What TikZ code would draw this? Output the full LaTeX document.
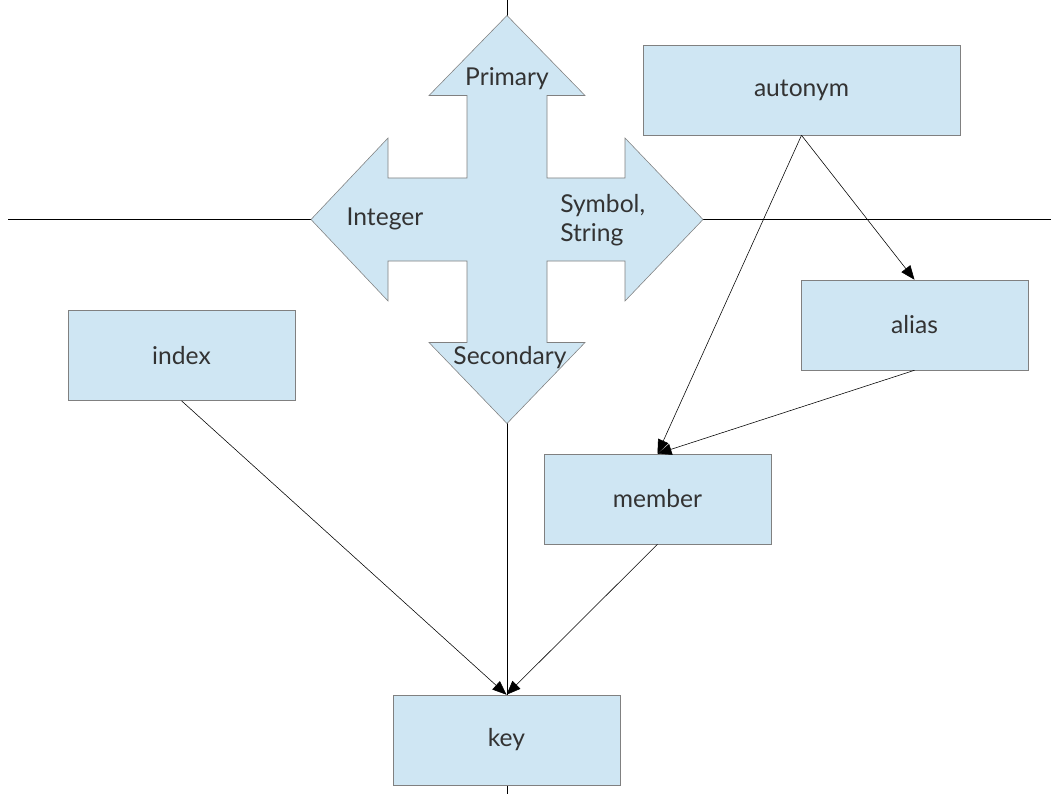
\documentclass[tikz,border=0pt]{standalone}
\usepackage{fontspec}
\setmainfont{Lato}
\usetikzlibrary{arrows.meta}
\definecolor{boxfill}{HTML}{CFE6F3}
\definecolor{boxline}{HTML}{808080}
\definecolor{txt}{HTML}{333333}
\tikzset{
    box/.style={draw=boxline,fill=boxfill,text=txt,minimum height=90*0.025cm,inner sep=0pt,font=\fontsize{17.5}{21}\selectfont},
    lbl/.style={text=txt,font=\fontsize{17.5}{21}\selectfont,inner sep=0pt},
    link/.style={->,>={Triangle[length=10pt,width=8pt]},black},
}
\begin{document}
\begin{tikzpicture}[x=0.025cm,y=-0.025cm]
    \useasboundingbox (0,0) rectangle (1058,794);
    \def\cx{507}%tâm x
    \def\cy{219.5}%tâm y
    % trục
    \coordinate (N) at (\cx,0);
    \coordinate (S) at (\cx,794);
    \coordinate (W) at (8,\cy);
    \coordinate (E) at (1051,\cy);
    \draw (N)--(S) (W)--(E);
    % mũi tên bốn chiều
    \draw[boxline,fill=boxfill,shift={(\cx,\cy)}]
    (0,-204)--(78,-124)--(40,-124)--(40,-41.5)--(118,-41.5)--(118,-81.5)--(196,0)
    --(118,81.5)--(118,41.5)--(40,41.5)--(40,123)--(78,123)--(0,204)--(-78,123)
    --(-40,123)--(-40,41.5)--(-119,41.5)--(-119,81.5)--(-196,0)--(-119,-81.5)
    --(-119,-41.5)--(-40,-41.5)--(-40,-124)--(-78,-124)--cycle;
    \path
    foreach \p/\n/\t in {{(507,79)}/pri/Primary,{(385,219)}/int/Integer,{(510,358)}/sec/Secondary}
    {\p node[lbl] (\n) {\t}}
    (560,220) node[lbl,anchor=west,align=left] (sym) {Symbol,\\String};
    % các hộp
    \path
    foreach \n/\x/\y/\w in {autonym/801.5/90/317,alias/914.5/325/227,index/181.5/355.5/227,member/657.5/499/227,key/506.5/740/227}
    {(\x,\y) node[box,minimum width=\w*0.025cm] (\n) {\n}};
    \foreach \a/\b in {autonym/alias,autonym/member,alias/member,index/key,member/key}
    \draw[link] (\a.south)--(\b.north);
\end{tikzpicture}
\end{document}
